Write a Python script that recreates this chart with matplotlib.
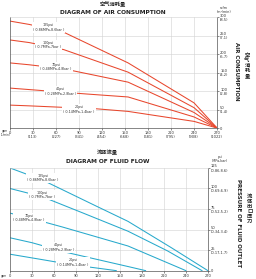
import matplotlib
matplotlib.use("Agg")
import matplotlib.pyplot as plt

plt.rcParams['font.family'] = ['DejaVu Sans', 'Noto Sans CJK SC']
CJK = ['Noto Sans CJK SC', 'DejaVu Sans']

# x axis (flow), shared by both diagrams
gpm_ticks = [0, 30, 60, 90, 120, 150, 180, 210, 240, 270]
lmin_ticks = [0, 113, 227, 341, 454, 568, 681, 795, 908, 1022]

psi_names = ["125psi\n( 0.86MPa,8.6bar )", "100psi\n( 0.7MPa,7bar )",
             "70psi\n( 0.48MPa,4.8bar )", "40psi\n( 0.28MPa,2.8bar )",
             "20psi\n( 0.14MPa,1.4bar )"]

# air consumption curves (gpm -> scfm)
air_x = [[0, 25, 70, 154, 240, 270],
         [0, 25, 70, 154, 240, 270],
         [0, 25, 70, 154, 240, 270],
         [0, 25, 100, 154, 240, 270],
         [0, 25, 113, 154, 240, 270]]
air_y = [[289, 280, 259, 176, 68, 0],
         [238, 231, 212, 151, 55, 0],
         [176, 171, 160, 124, 42, 0],
         [108, 104, 92, 84, 30, 0],
         [62, 60, 52, 45, 18, 0]]
air_lab_x = [50, 50, 60, 66, 90]
air_lab_y = [272, 224, 165, 99, 50]

scfm_ticks = [0, 50, 100, 150, 200, 250, 300]
m3_ticks = [None, 1.4, 2.8, 4.2, 5.7, 7.1, 8.5]

# fluid flow curves (gpm -> outlet psi)
flow_x = [[0, 45, 119, 161, 220, 270],
          [0, 44, 100, 161, 215, 262],
          [0, 23, 72, 161, 240],
          [0, 30, 78, 161, 185],
          [0, 40, 86, 145]]
flow_y = [[125, 110, 78, 60, 28, 0],
          [100, 90, 70, 48, 24, 0],
          [70, 65, 53, 30, 0],
          [40, 34, 22, 5, 0],
          [20, 14, 7, 0]]
flow_lab_x = [45, 44, 26, 66, 86]
flow_lab_y = [113, 92, 64, 28, 10]

psi_ticks = [0, 25, 50, 75, 100, 125]
mpa_ticks = [None, 0.17, 0.34, 0.52, 0.69, 0.86]
bar_ticks = [None, 1.7, 3.4, 5.2, 6.9, 8.6]

RED = "#e8472d"
CYAN = "#27a9cc"
GRID = "#d2d2d2"
TXT = "#333333"

fig = plt.figure(figsize=(2.56, 2.79), dpi=100)
fig.patch.set_facecolor("white")


def setup(ax, ylim, yt, ylabels, grid_y, xlabels):
    ax.set_xlim(0, 270)
    ax.set_ylim(*ylim)
    ax.set_xticks(gpm_ticks)
    ax.set_xticklabels(xlabels, fontsize=2.6, color=TXT, linespacing=1.1)
    ax.yaxis.tick_right()
    ax.set_yticks(yt)
    ax.set_yticklabels(ylabels, fontsize=2.6, color=TXT, linespacing=1.1)
    ax.tick_params(length=1.2, width=0.4, pad=1, colors=TXT)
    for g in gpm_ticks[1:-1]:
        ax.axvline(g, color=GRID, lw=0.4, zorder=0)
    for v in grid_y:
        ax.axhline(v, color=GRID, lw=0.4, zorder=0)
    for s in ["left", "bottom", "right"]:
        ax.spines[s].set_linewidth(0.5)
        ax.spines[s].set_color("#555555")
    ax.spines["top"].set_color(GRID)
    ax.spines["top"].set_linewidth(0.4)


# ---- air consumption
ax1 = fig.add_axes([0.039, 0.541, 0.809, 0.398])
setup(ax1, (0, 300), scfm_ticks,
      ["0" if m is None else "%d\n(%.1f)" % (s, m) for s, m in zip(scfm_ticks, m3_ticks)],
      [50, 100, 150, 200, 250],
      ["%d\n(%d)" % (g, l) if g else "0" for g, l in zip(gpm_ticks, lmin_ticks)])
for xs, ys, name, lx, ly in zip(air_x, air_y, psi_names, air_lab_x, air_lab_y):
    ax1.plot(xs, ys, color=RED, lw=0.75, zorder=2)
    ax1.text(lx, ly, name, fontsize=2.4, ha="center", va="center", color=TXT,
             linespacing=1.2, zorder=3,
             bbox=dict(facecolor="white", edgecolor="none", pad=0.6))

fig.text(0.44, 0.985, "空气消耗量", family=CJK, fontsize=3.8, fontweight="bold",
         ha="center", va="center", color="#222222")
fig.text(0.44, 0.955, "DIAGRAM OF AIR CONSUMPTION", fontsize=4.2, fontweight="bold",
         ha="center", va="center", color="#222222")
fig.text(0.875, 0.965, "scfm\n(m³/min)", fontsize=2.4, ha="center", va="center",
         color=TXT, linespacing=1.0)
fig.text(0.925, 0.745, "AIR CONSUMPTION", fontsize=4.0, fontweight="bold",
         rotation=-90, ha="center", va="center", color="#222222")
fig.text(0.965, 0.765, "\n".join("空气消耗量"), family=CJK, fontsize=3.8, fontweight="bold",
         ha="center", va="center", color="#222222", linespacing=1.0)
fig.text(0.021, 0.522, "gpm\n(L/min)", fontsize=2.0, ha="center", va="center",
         color=TXT, linespacing=1.0)

# ---- fluid flow
ax2 = fig.add_axes([0.039, 0.03, 0.773, 0.368])
setup(ax2, (0, 125), psi_ticks,
      ["0" if m is None else "%d\n(%.2f,%.1f)" % (p, m, b)
       for p, m, b in zip(psi_ticks, mpa_ticks, bar_ticks)],
      [25, 50, 75, 100],
      [str(g) for g in gpm_ticks])
for xs, ys, name, lx, ly in zip(flow_x, flow_y, psi_names, flow_lab_x, flow_lab_y):
    ax2.plot(xs, ys, color=CYAN, lw=0.75, zorder=2)
    ax2.text(lx, ly, name, fontsize=2.4, ha="center", va="center", color=TXT,
             linespacing=1.2, zorder=3,
             bbox=dict(facecolor="white", edgecolor="none", pad=0.6))

fig.text(0.42, 0.452, "流体流量", family=CJK, fontsize=3.8, fontweight="bold",
         ha="center", va="center", color="#222222")
fig.text(0.42, 0.42, "DIAGRAM OF FLUID FLOW", fontsize=4.2, fontweight="bold",
         ha="center", va="center", color="#222222")
fig.text(0.86, 0.43, "psi\n(MPa,bar)", fontsize=2.4, ha="center", va="center",
         color=TXT, linespacing=1.0)
fig.text(0.93, 0.2, "PRESSURE OF FLUID OUTLET", fontsize=4.0, fontweight="bold",
         rotation=-90, ha="center", va="center", color="#222222")
fig.text(0.975, 0.25, "\n".join("流体出口压力"), family=CJK, fontsize=3.8, fontweight="bold",
         ha="center", va="center", color="#222222", linespacing=1.0)
fig.text(0.017, 0.012, "gpm", fontsize=2.0, ha="center", va="center", color=TXT)

fig.savefig("out.png", dpi=100, facecolor="white")
